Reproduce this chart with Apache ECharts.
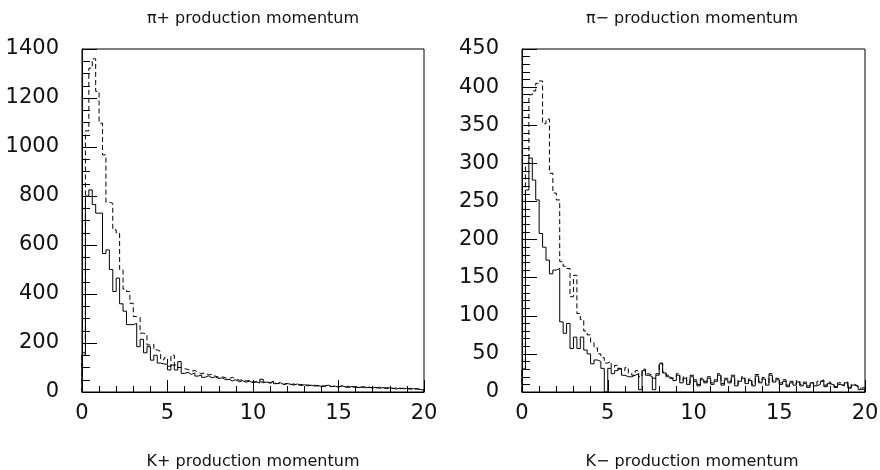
<!DOCTYPE html>
<html><head><meta charset="utf-8">
<script src="https://cdn.jsdelivr.net/npm/echarts@6/dist/echarts.min.js"></script>
<style>html,body{margin:0;padding:0;background:#fff}#c{width:880px;height:470px}</style>
</head><body><div id="c"></div>
<script>
const binWidth = 0.2;
const xTicks = [0, 5, 10, 15, 20];
const titles = ["\u03c0+ production momentum", "\u03c0\u2212 production momentum"];
const nextTitles = ["K+ production momentum", "K\u2212 production momentum"];

const piPlusSolid = [
 150, 800, 825, 765, 730, 730, 565, 580, 500, 410,
 465, 360, 330, 275, 275, 280, 185, 215, 160, 185,
 130, 150, 118, 115, 112, 90, 110, 90, 124, 76,
 80, 72, 78, 65, 70, 60, 66, 58, 62, 55,
 58, 50, 52, 45, 50, 42, 46, 40, 44, 38,
 42, 36, 52, 40, 38, 44, 34, 38, 30, 34,
 32, 28, 33, 26, 30, 25, 28, 24, 27, 22,
 25, 28, 22, 24, 20, 26, 21, 18, 23, 20,
 18, 22, 17, 20, 16, 19, 15, 18, 14, 17,
 15, 12, 16, 13, 15, 11, 14, 12, 10, 8
];
const piPlusDashed = [
 160, 1066, 1322, 1360, 1227, 1097, 968, 775, 770, 662,
 648, 500, 420, 410, 362, 308, 305, 240, 235, 192,
 195, 172, 165, 131, 140, 105, 150, 110, 100, 95,
 92, 85, 88, 80, 75, 78, 70, 72, 65, 60,
 62, 58, 55, 60, 52, 48, 50, 45, 47, 42,
 40, 44, 38, 42, 36, 40, 34, 37, 32, 35,
 30, 33, 28, 31, 27, 29, 26, 28, 24, 26,
 23, 26, 22, 25, 21, 23, 20, 24, 19, 21,
 20, 18, 22, 17, 19, 16, 20, 15, 18, 16,
 14, 17, 13, 16, 12, 15, 11, 14, 10, 9
];
const piMinusSolid = [
 30, 265, 307, 278, 252, 208, 190, 173, 155, 160,
 162, 92, 77, 90, 57, 72, 57, 72, 55, 50,
 37, 42, 40, 31, 0, 31, 24, 28, 31, 22,
 20, 20, 22, 24, 3, 28, 22, 20, 3, 22,
 37, 25, 20, 18, 15, 22, 12, 18, 10, 20,
 14, 8, 16, 12, 18, 10, 14, 22, 9, 16,
 12, 20, 8, 14, 18, 11, 15, 8, 21, 12,
 17, 9, 22, 13, 16, 10, 14, 7, 12, 9,
 13, 8, 11, 6, 12, 8, 10, 14, 7, 11,
 9, 6, 10, 8, 12, 5, 9, 7, 3, 4
];
const piMinusDashed = [
 30, 300, 390, 395, 405, 408, 352, 358, 287, 261,
 252, 171, 165, 162, 125, 153, 103, 95, 80, 75,
 65, 58, 50, 45, 38, 40, 32, 35, 30, 28,
 32, 25, 22, 28, 20, 30, 24, 22, 18, 24,
 38, 26, 22, 18, 20, 24, 15, 20, 12, 22,
 16, 10, 18, 14, 20, 12, 16, 24, 11, 18,
 14, 22, 10, 16, 20, 13, 17, 10, 23, 14,
 19, 11, 24, 15, 18, 12, 16, 9, 14, 11,
 15, 10, 13, 8, 12, 9, 14, 16, 9, 13,
 10, 7, 12, 9, 13, 6, 10, 8, 5, 6
];

function steps(vals) {
  const n = vals.length;
  const pts = [[0, 0]];
  vals.forEach((v, i) => pts.push([+(i * binWidth).toFixed(4), v]));
  pts.push([+(n * binWidth).toFixed(4), vals[n - 1]]);
  pts.push([+(n * binWidth).toFixed(4), 0]);
  return pts;
}

const FONT = 'DejaVu Sans';
const plain = v => String(v);
function xAxis(g) {
  return {
    gridIndex: g, type: 'value', min: xTicks[0], max: xTicks[xTicks.length - 1], interval: 5,
    axisLine: { show: true, onZero: false, lineStyle: { color: '#000', width: 1 } },
    axisTick: { show: true, inside: true, length: 12, lineStyle: { color: '#000', width: 1 } },
    minorTick: { show: true, splitNumber: 5, length: 6, lineStyle: { color: '#000', width: 1 } },
    splitLine: { show: false },
    axisLabel: { color: '#111', fontSize: 21, fontFamily: FONT, margin: 11, formatter: plain }
  };
}
function yAxis(g, max, interval, minorSplit) {
  return {
    gridIndex: g, type: 'value', min: 0, max: max, interval: interval,
    axisLine: { show: true, onZero: false, lineStyle: { color: '#000', width: 1 } },
    axisTick: { show: true, inside: true, length: 15, lineStyle: { color: '#000', width: 1 } },
    minorTick: { show: true, splitNumber: minorSplit, length: 8, lineStyle: { color: '#000', width: 1 } },
    splitLine: { show: false },
    axisLabel: { color: '#111', fontSize: 21, fontFamily: FONT, margin: 23, formatter: plain }
  };
}
function hist(vals, g, dashed) {
  return {
    type: 'line', xAxisIndex: g, yAxisIndex: g, step: 'end', data: steps(vals),
    symbol: 'none', showSymbol: false, clip: true, silent: true,
    lineStyle: { color: '#000', width: 1, type: dashed ? [5, 3] : 'solid' }
  };
}
const centers = [253, 692];
const chart = echarts.init(document.getElementById('c'));
chart.setOption({
  animation: false,
  backgroundColor: '#fff',
  grid: [
    { left: 82, right: 456, top: 49, bottom: 78, show: true, borderColor: '#000', borderWidth: 1, outerBoundsMode: 'none' },
    { left: 522, right: 15, top: 49, bottom: 78, show: true, borderColor: '#000', borderWidth: 1, outerBoundsMode: 'none' }
  ],
  xAxis: [xAxis(0), xAxis(1)],
  yAxis: [yAxis(0, 1400, 200, 4), yAxis(1, 450, 50, 5)],
  series: [
    hist(piPlusSolid, 0, false), hist(piPlusDashed, 0, true),
    hist(piMinusSolid, 1, false), hist(piMinusDashed, 1, true)
  ],
  graphic: [0, 1].flatMap(i => [
    { type: 'text', x: centers[i], y: 19, style: { text: titles[i], fill: '#111', font: '16px "' + FONT + '"', textAlign: 'center', textVerticalAlign: 'middle' } },
    { type: 'text', x: centers[i], y: 462, style: { text: nextTitles[i], fill: '#111', font: '16px "' + FONT + '"', textAlign: 'center', textVerticalAlign: 'middle' } }
  ])
});
</script></body></html>
